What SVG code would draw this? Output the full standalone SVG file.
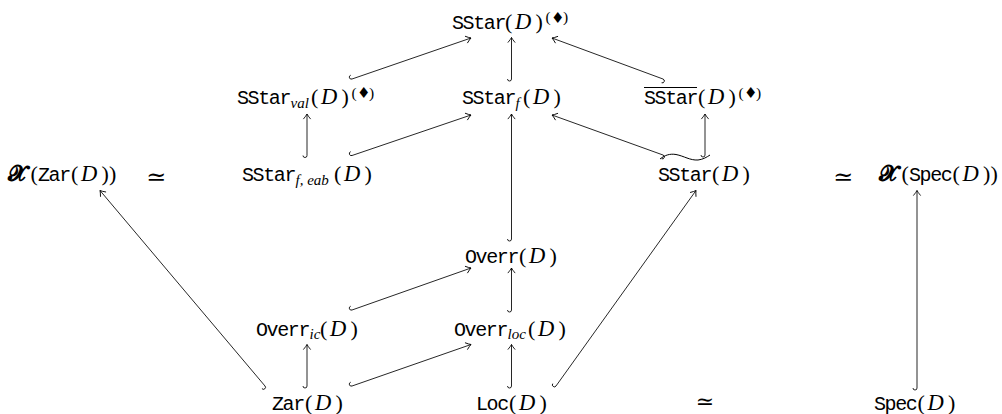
<svg xmlns="http://www.w3.org/2000/svg" width="1002" height="414" viewBox="0 0 1002 414">
<style>
text{fill:#000}
.tt{font-family:"Liberation Mono",monospace;font-size:20px;letter-spacing:-1.4px}
.rm{font-family:"Liberation Serif",serif;font-size:22px}
.it{font-family:"Liberation Serif",serif;font-size:22.5px;font-style:italic}
.sb{font-family:"Liberation Serif",serif;font-size:15px;font-style:italic}
.sp{font-family:"Liberation Serif",serif;font-size:15.5px}
.dm{font-family:"DejaVu Sans",sans-serif;font-size:15px}
.rel{font-family:"DejaVu Serif",serif;font-size:24px}
.bx{font-family:"DejaVu Serif","DejaVu Sans","Noto Sans",serif;font-size:22px;font-weight:bold}
.ar{fill:none;stroke:#000;stroke-width:0.85;marker-start:url(#hook);marker-end:url(#tip)}
.acc{fill:none;stroke:#000}
</style>
<defs>
<marker id="tip" markerUnits="userSpaceOnUse" orient="auto" overflow="visible" markerWidth="12" markerHeight="12" refX="0" refY="0">
<path d="M-4.8,-3.4 Q-1.8,-0.9 0,0 Q-1.8,0.9 -4.8,3.4" fill="none" stroke="#000" stroke-width="0.85" stroke-linecap="round"/>
</marker>
<marker id="hook" markerUnits="userSpaceOnUse" orient="auto" overflow="visible" markerWidth="12" markerHeight="12" refX="0" refY="0">
<path d="M0,-4 A2,2 0 0 0 0,0" fill="none" stroke="#000" stroke-width="0.85"/>
</marker>
</defs>

<g id="connectors">
<path class="ar" d="M352,79 L471,38"/>
<path class="ar" d="M511.5,79 L511.5,37.5"/>
<path class="ar" d="M663,79 L552,38"/>
<path class="ar" d="M307,155.5 L307,114"/>
<path class="ar" d="M352,155.5 L471,115"/>
<path class="ar" d="M663,155 L552,115"/>
<path class="ar" d="M705,155 L705,114"/>
<path class="ar" d="M511.5,239 L511.5,114"/>
<path class="ar" d="M352,310 L471,268"/>
<path class="ar" d="M511.5,310 L511.5,268"/>
<path class="ar" d="M307,386 L307,344.5"/>
<path class="ar" d="M352,386 L471,344.5"/>
<path class="ar" d="M511.5,386 L511.5,344.5"/>
<path class="ar" d="M265,386 L100,190.5"/>
<path class="ar" d="M556,386 L696,190.5"/>
<path class="ar" d="M917,388 L917,190.5"/>
</g>

<g id="n-sstar-diamond">
<text><tspan class="tt" x="452" y="28.5">SStar</tspan><tspan class="rm" x="505" y="28.5">(</tspan><tspan class="it" x="515" y="28.5">D</tspan><tspan class="rm" x="535.5" y="28.5">)</tspan><tspan class="sp" x="545.5" y="22">(</tspan><tspan class="dm" x="551" y="22.5">♦</tspan><tspan class="sp" x="563" y="22">)</tspan></text>
</g>

<g id="n-sstar-val">
<text><tspan class="tt" x="237" y="104">SStar</tspan><tspan class="sb" x="290.5" y="107.5">val</tspan><tspan class="rm" x="311" y="104">(</tspan><tspan class="it" x="321" y="104">D</tspan><tspan class="rm" x="341.5" y="104">)</tspan><tspan class="sp" x="351.5" y="97.5">(</tspan><tspan class="dm" x="357" y="98">♦</tspan><tspan class="sp" x="369" y="97.5">)</tspan></text>
</g>

<g id="n-sstar-f">
<text><tspan class="tt" x="462" y="104">SStar</tspan><tspan class="sb" x="515.5" y="107.5">f</tspan><tspan class="rm" x="523" y="104">(</tspan><tspan class="it" x="533" y="104">D</tspan><tspan class="rm" x="553.5" y="104">)</tspan></text>
</g>

<g id="n-sstar-bar">
<line class="acc" x1="644" y1="87.5" x2="697" y2="87.5" stroke-width="1.2"/>
<text><tspan class="tt" x="644" y="104">SStar</tspan><tspan class="rm" x="698" y="104">(</tspan><tspan class="it" x="708" y="104">D</tspan><tspan class="rm" x="728.5" y="104">)</tspan><tspan class="sp" x="738.5" y="97.5">(</tspan><tspan class="dm" x="744" y="98">♦</tspan><tspan class="sp" x="756" y="97.5">)</tspan></text>
</g>

<g id="n-x-zar">
<text><tspan class="bx" x="8" y="181">𝓧</tspan><tspan class="rm" x="30.5" y="181">(</tspan><tspan class="tt" x="38" y="181">Zar</tspan><tspan class="rm" x="71" y="181">(</tspan><tspan class="it" x="81" y="181">D</tspan><tspan class="rm" x="101.5" y="181">)</tspan><tspan class="rm" x="109" y="181">)</tspan></text>
</g>

<g id="n-simeq-left">
<text class="rel" x="156" y="185" text-anchor="middle">≃</text>
</g>

<g id="n-sstar-f-eab">
<text><tspan class="tt" x="242" y="181">SStar</tspan><tspan class="sb" x="295.5" y="184.5">f, eab</tspan><tspan class="rm" x="334" y="181">(</tspan><tspan class="it" x="344" y="181">D</tspan><tspan class="rm" x="364.5" y="181">)</tspan></text>
</g>

<g id="n-sstar-tilde">
<path class="acc" stroke-width="1" d="M660,159 C665,155 670,153.5 676,154.5 C684,156 690,160.5 698,160 C703,159.5 707,157 710,155"/>
<text><tspan class="tt" x="658" y="181">SStar</tspan><tspan class="rm" x="712" y="181">(</tspan><tspan class="it" x="722" y="181">D</tspan><tspan class="rm" x="742.5" y="181">)</tspan></text>
</g>

<g id="n-simeq-right">
<text class="rel" x="843" y="185" text-anchor="middle">≃</text>
</g>

<g id="n-x-spec">
<text><tspan class="bx" x="879" y="181">𝓧</tspan><tspan class="rm" x="901.5" y="181">(</tspan><tspan class="tt" x="909" y="181">Spec</tspan><tspan class="rm" x="952.5" y="181">(</tspan><tspan class="it" x="962.5" y="181">D</tspan><tspan class="rm" x="983" y="181">)</tspan><tspan class="rm" x="990.5" y="181">)</tspan></text>
</g>

<g id="n-overr">
<text><tspan class="tt" x="465" y="263">Overr</tspan><tspan class="rm" x="519" y="263">(</tspan><tspan class="it" x="529" y="263">D</tspan><tspan class="rm" x="549.5" y="263">)</tspan></text>
</g>

<g id="n-overr-ic">
<text><tspan class="tt" x="256" y="335.5">Overr</tspan><tspan class="sb" x="309.5" y="339">ic</tspan><tspan class="rm" x="320" y="335.5">(</tspan><tspan class="it" x="330" y="335.5">D</tspan><tspan class="rm" x="350.5" y="335.5">)</tspan></text>
</g>

<g id="n-overr-loc">
<text><tspan class="tt" x="454" y="335.5">Overr</tspan><tspan class="sb" x="507.5" y="339">loc</tspan><tspan class="rm" x="528" y="335.5">(</tspan><tspan class="it" x="538" y="335.5">D</tspan><tspan class="rm" x="558.5" y="335.5">)</tspan></text>
</g>

<g id="n-zar">
<text><tspan class="tt" x="272" y="409.5">Zar</tspan><tspan class="rm" x="305" y="409.5">(</tspan><tspan class="it" x="315" y="409.5">D</tspan><tspan class="rm" x="335.5" y="409.5">)</tspan></text>
</g>

<g id="n-loc">
<text><tspan class="tt" x="476" y="409.5">Loc</tspan><tspan class="rm" x="509" y="409.5">(</tspan><tspan class="it" x="519" y="409.5">D</tspan><tspan class="rm" x="539.5" y="409.5">)</tspan></text>
</g>

<g id="n-simeq-bottom">
<text class="rel" x="705" y="408.5" text-anchor="middle" style="font-size:22px">≃</text>
</g>

<g id="n-spec">
<text><tspan class="tt" x="874" y="409.5">Spec</tspan><tspan class="rm" x="917.5" y="409.5">(</tspan><tspan class="it" x="927.5" y="409.5">D</tspan><tspan class="rm" x="948" y="409.5">)</tspan></text>
</g>
</svg>
